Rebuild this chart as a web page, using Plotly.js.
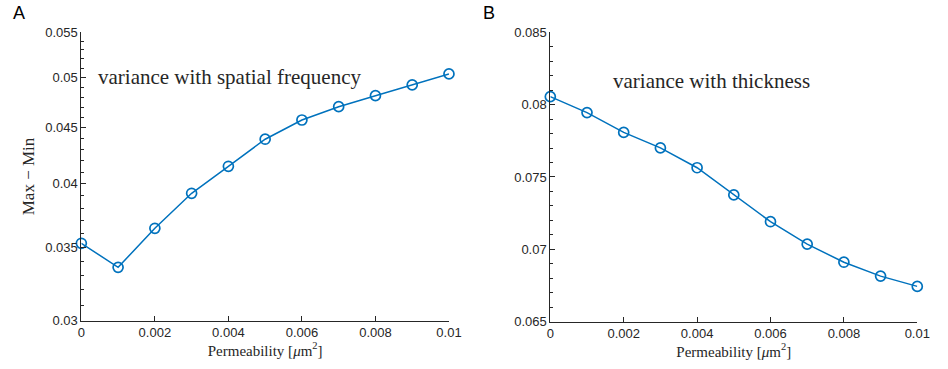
<!DOCTYPE html>
<html>
<head>
<meta charset="utf-8">
<script src="https://cdn.plot.ly/plotly-3.0.1.min.js"></script>
<style>html,body{margin:0;padding:0;background:#fff;}#chart{width:948px;height:369px;}</style>
</head>
<body>
<div id="chart"></div>
<script>
// Data
const permeability = [0, 0.001, 0.002, 0.003, 0.004, 0.005, 0.006, 0.007, 0.008, 0.009, 0.01];
const spatialFreqRange = [0.0353, 0.03356, 0.03643, 0.03921, 0.04150, 0.04393, 0.04574, 0.04704, 0.04814, 0.04924, 0.05039];
const thicknessRange = [0.08055, 0.07945, 0.07808, 0.07701, 0.07564, 0.07376, 0.07191, 0.07036, 0.06911, 0.06815, 0.06744];
const xTicks = [0, 0.002, 0.004, 0.006, 0.008, 0.01];
const xTickText = ['0', '0.002', '0.004', '0.006', '0.008', '0.01'];
const yTicksA = [0.03, 0.035, 0.04, 0.045, 0.05, 0.055];
const yTickTextA = ['0.03', '0.035', '0.04', '0.045', '0.05', '0.055'];
const yTicksB = [0.065, 0.07, 0.075, 0.08, 0.085];
const yTickTextB = ['0.065', '0.07', '0.075', '0.08', '0.085'];
const panelLabels = ['A', 'B'];
const panelNotes = ['variance with spatial frequency', 'variance with thickness'];
const xTitle = 'Permeability [<i>μ</i>m<sup>2</sup>]';
const yTitleA = 'Max − Min';

const BLUE = '#0072BD';
const AX = '#262626';
const tickFont = {family: 'Liberation Sans, Arial, sans-serif', size: 13, color: AX};
const serif = 'Liberation Serif, Times New Roman, serif';

const minorA = [];
for (let k = 31; k <= 54; k++) minorA.push(k / 1000);

function trace(y, xa, ya) {
  return {
    x: permeability, y: y, xaxis: xa, yaxis: ya,
    type: 'scatter', mode: 'lines+markers',
    line: {color: BLUE, width: 1.5},
    marker: {symbol: 'circle-open', size: 10, color: BLUE, line: {width: 1.7, color: BLUE}},
    cliponaxis: false, hoverinfo: 'skip'
  };
}

function xAxis(domain, anchor) {
  return {
    domain: domain, anchor: anchor, range: [0, 0.01],
    tickmode: 'array', tickvals: xTicks, ticktext: xTickText,
    ticks: 'inside', ticklen: 5, tickcolor: AX, tickwidth: 1,
    showline: true, linecolor: AX, linewidth: 1, mirror: false,
    showgrid: false, zeroline: false, tickfont: tickFont,
    title: {text: xTitle, font: {family: serif, size: 15, color: AX}, standoff: 4},
    automargin: false
  };
}

const layout = {
  width: 948, height: 369,
  margin: {l: 0, r: 0, t: 0, b: 0},
  paper_bgcolor: '#fff', plot_bgcolor: '#fff',
  showlegend: false,
  xaxis: xAxis([0.0858, 0.4736], 'y'),
  xaxis2: xAxis([0.5805, 0.9676], 'y2'),
  yaxis: {
    domain: [0.1309, 0.9125], anchor: 'x', type: 'log',
    range: [Math.log10(0.03), Math.log10(0.055)],
    tickmode: 'array', tickvals: yTicksA, ticktext: yTickTextA,
    ticks: 'inside', ticklen: 5, tickcolor: AX, tickwidth: 1,
    minor: {tickmode: 'array', tickvals: minorA, ticks: 'inside', ticklen: 3, tickcolor: AX, tickwidth: 1},
    showline: true, linecolor: AX, linewidth: 1, mirror: false,
    showgrid: false, zeroline: false, tickfont: tickFont,
    title: {text: yTitleA, font: {family: serif, size: 17, color: AX}, standoff: 6},
    automargin: false
  },
  yaxis2: {
    domain: [0.1282, 0.9125], anchor: 'x2',
    range: [0.065, 0.085],
    tickmode: 'array', tickvals: yTicksB, ticktext: yTickTextB,
    ticks: 'inside', ticklen: 5, tickcolor: AX, tickwidth: 1,
    minor: {dtick: 0.001, ticks: 'inside', ticklen: 3, tickcolor: AX, tickwidth: 1},
    showline: true, linecolor: AX, linewidth: 1, mirror: false,
    showgrid: false, zeroline: false, tickfont: tickFont,
    automargin: false
  },
  annotations: [
    {xref: 'paper', yref: 'paper', x: 0.2426, y: 0.7913, xanchor: 'center', yanchor: 'middle',
     text: panelNotes[0], showarrow: false, font: {family: serif, size: 21, color: AX}},
    {xref: 'paper', yref: 'paper', x: 0.7503, y: 0.7805, xanchor: 'center', yanchor: 'middle',
     text: panelNotes[1], showarrow: false, font: {family: serif, size: 21, color: AX}},
    {xref: 'paper', yref: 'paper', x: 0.0204, y: 0.9648, xanchor: 'center', yanchor: 'middle',
     text: panelLabels[0], showarrow: false, font: {family: 'Liberation Sans, Arial, sans-serif', size: 18, color: '#000'}},
    {xref: 'paper', yref: 'paper', x: 0.5158, y: 0.9648, xanchor: 'center', yanchor: 'middle',
     text: panelLabels[1], showarrow: false, font: {family: 'Liberation Sans, Arial, sans-serif', size: 18, color: '#000'}}
  ]
};

Plotly.newPlot('chart', [trace(spatialFreqRange, 'x', 'y'), trace(thicknessRange, 'x2', 'y2')], layout, {staticPlot: true, displayModeBar: false});
</script>
</body>
</html>
